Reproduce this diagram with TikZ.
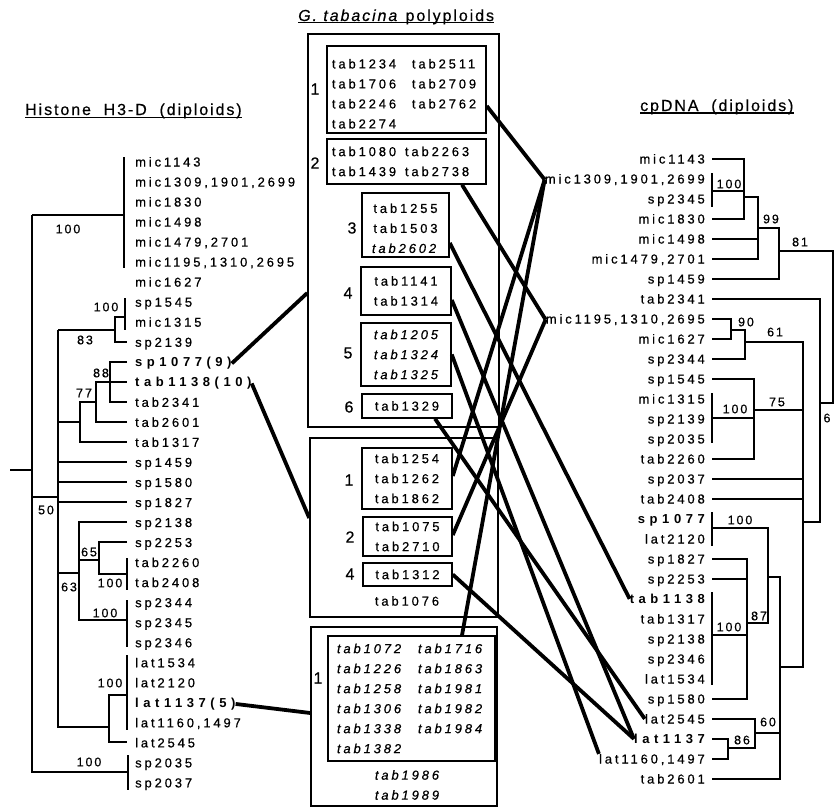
\documentclass[tikz,border=0pt]{standalone}
\usepackage{fontspec}
\setmainfont{Liberation Sans}
\newfontfamily\labfont[LetterSpace=22, FakeBold=0.6]{Liberation Sans}
\newfontfamily\boldfont[LetterSpace=35]{Liberation Sans}
\newfontfamily\suppfont[LetterSpace=15, FakeBold=0.6]{Liberation Sans}
\newfontfamily\titlefont[LetterSpace=12, FakeBold=0.5]{Liberation Sans}
\usepackage{tikz}
\usetikzlibrary{calc, positioning}
\newcommand\tipr{\labfont\fontsize{13}{20}\selectfont}
\newcommand\tipb{\boldfont\bfseries\fontsize{13}{20}\selectfont}
\newcommand\twocol[3]{\makebox[#1][l]{#2}#3}

\begin{document}
\begin{tikzpicture}[x=1pt, y=-1pt,
  every node/.style={inner sep=0pt},
  branch/.style={line width=1.5pt},
  link/.style={line width=3.8pt},
  supp/.style={font=\suppfont\fontsize{12.5}{14}\selectfont},
  num/.style={font=\labfont\fontsize{16}{16}\selectfont},
  ttl/.style={font=\titlefont\fontsize{16}{18}\selectfont},
  uline/.style={line width=1pt},
  outer/.style={draw, line width=1.5pt},
  grp/.style={draw, line width=1.5pt, font=\tipr}]
  \useasboundingbox (0,0) rectangle (836,808);

  \node[ttl, anchor=base west] (hTitle) at (25,115) {Histone\ \ H3-D\ \ (diploids)};
  \node[ttl, anchor=base west] (gTitle) at (298,21) {\textit{G.\ tabacina}\ polyploids};
  \node[ttl, anchor=base west] (cTitle) at (640,111) {cpDNA\ \ (diploids)};
  \foreach \t in {hTitle, gTitle, cTitle}
    \draw[uline] ([yshift=-2pt]\t.base west) -- ([yshift=-2pt]\t.base east);

  \foreach \t/\w [count=\i from 0] in {mic1143/r, {mic1309,1901,2699}/r, mic1830/r, mic1498/r,
      {mic1479,2701}/r, {mic1195,1310,2695}/r, mic1627/r, sp1545/r, mic1315/r, sp2139/r,
      sp1077(9)/b, tab1138(10)/b, tab2341/r, tab2601/r, tab1317/r, sp1459/r, sp1580/r,
      sp1827/r, sp2138/r, sp2253/r, tab2260/r, tab2408/r, sp2344/r, sp2345/r, sp2346/r,
      lat1534/r, lat2120/r, lat1137(5)/b, {lat1160,1497}/r, lat2545/r, sp2035/r, sp2037/r}
    \node[font=\csname tip\w\endcsname, anchor=base west] (L\i) at (135, 166.5+20.03*\i) {\t};

  \foreach \t/\w [count=\i from 0] in {mic1143/r, {mic1309,1901,2699}/r, sp2345/r, mic1830/r,
      mic1498/r, {mic1479,2701}/r, sp1459/r, tab2341/r, {mic1195,1310,2695}/r, mic1627/r,
      sp2344/r, sp1545/r, mic1315/r, sp2139/r, sp2035/r, tab2260/r, sp2037/r, tab2408/r,
      sp1077/b, lat2120/r, sp1827/r, sp2253/r, tab1138/b, tab1317/r, sp2138/r, sp2346/r,
      lat1534/r, sp1580/r, lat2545/r, lat1137/b, {lat1160,1497}/r, tab2601/r}
    \node[font=\csname tip\w\endcsname, anchor=base east] (R\i) at (705, 163.5+20*\i) {\t};

  \draw[branch] (10,470) -- (32,470) (32,215) -- (32,772) -- (128,772) (128,755) -- (128,790);
  \draw[branch] (32,215) -- (124,215) (124,157) -- (124,268);
  \draw[branch] (32,497) -- (58,497) (58,330) -- (58,727) -- (109,727);
  \draw[branch] (58,330) -- (115,330) (125,317) -| (115,342) -- (127,342) (125,298) -- (125,330);
  \draw[branch] (58,422) -- (80,422) (96,402) -| (80,442) -- (127,442);
  \draw[branch] (127,422) -| (96,382) -- (110,382) (127,362) -| (110,402) -- (127,402) (110,382) -- (127,382);
  \draw[branch] (58,462) -- (127,462) (58,482) -- (127,482) (58,502) -- (127,502);
  \draw[branch] (58,573) -- (79,573) (127,522) -| (79,620) -- (127,620) (127,600) -- (127,647);
  \draw[branch] (79,560) -- (99,560) (127,542) -| (99,574) -- (127,574) (127,558) -- (127,590);
  \draw[branch] (127,695) -| (109,742) -- (127,742) (127,655) -- (127,730);

  \node[supp] (sL1) at (68,229) {100};
  \node[supp] (sL2) at (46,510) {50};
  \node[supp] (sL3) at (85,340) {83};
  \node[supp] (sL4) at (106,307) {100};
  \node[supp] (sL5) at (84,393) {77};
  \node[supp] (sL6) at (101,373) {88};
  \node[supp] (sL7) at (69,587) {63};
  \node[supp] (sL8) at (89,552) {65};
  \node[supp] (sL9) at (110,583) {100};
  \node[supp] (sL10) at (105,613) {100};
  \node[supp] (sL11) at (110,683) {100};
  \node[supp] (sL12) at (89,762) {100};

  \draw[branch] (712,159) -| (744,219) -- (712,219) (712,173) -- (712,207) (712,191) -- (744,191);
  \draw[branch] (744,197) -| (758,259) -- (712,259) (712,239) -- (758,239);
  \draw[branch] (758,228) -| (779,279) -- (712,279);
  \draw[branch] (779,251) -| (833,403) -- (820,403);
  \draw[branch] (712,299) -| (820,522) -- (803,522);
  \draw[branch] (712,319) -| (731,339) -- (712,339);
  \draw[branch] (731,330) -| (745,359) -- (712,359);
  \draw[branch] (745,342) -| (803,667) -- (780,667);
  \draw[branch] (712,379) -| (754,459) -- (712,459) (712,393) -- (712,443) (712,418) -- (754,418);
  \draw[branch] (754,410) -- (803,410) (712,479) -- (803,479) (712,499) -- (803,499);
  \draw[branch] (712,512) -- (712,546) (712,528) -| (768,623) -- (747,623);
  \draw[branch] (712,559) -| (747,699) -- (712,699) (712,579) -- (747,579);
  \draw[branch] (712,592) -- (712,685) (712,635) -- (747,635);
  \draw[branch] (768,577) -| (780,779) -- (712,779);
  \draw[branch] (712,719) -| (755,748) -- (728,748) (755,733) -- (780,733);
  \draw[branch] (712,739) -| (728,759) -- (712,759);

  \node[supp] (sR1) at (729,184) {100};
  \node[supp] (sR2) at (771,219) {99};
  \node[supp] (sR3) at (800,242) {81};
  \node[supp] (sR4) at (746,322) {90};
  \node[supp] (sR5) at (775,332) {61};
  \node[supp] (sR6) at (735,409) {100};
  \node[supp] (sR7) at (777,402) {75};
  \node[supp] (sR8) at (740,520) {100};
  \node[supp] (sR9) at (729,627) {100};
  \node[supp] (sR10) at (759,616) {87};
  \node[supp] (sR11) at (768,722) {60};
  \node[supp] (sR12) at (742,740) {86};
  \node[supp] (sR13) at (827,418) {6};

  \node[outer, minimum width=191pt, minimum height=393pt] (outA) at (403.5,230.5) {};
  \node[outer, minimum width=188pt, minimum height=179pt] (outB) at (404,527.5) {};
  \node[outer, minimum width=186pt, minimum height=179pt] (outC) at (404,716.5) {};

  \node[grp, align=left, text width=149pt, minimum width=159pt, minimum height=87pt] (boxA1) at (406.5,89.5)
    {\rule{0pt}{18pt}\twocol{80pt}{tab1234}{tab2511}\\\twocol{80pt}{tab1706}{tab2709}\\
    \twocol{80pt}{tab2246}{tab2762}\\tab2274};
  \node[grp, align=left, text width=149pt, minimum width=159pt, minimum height=45pt] (boxA2) at (406.5,161.5)
    {\twocol{73pt}{tab1080}{tab2263}\\\twocol{73pt}{tab1439}{tab2738}};
  \node[grp, align=center, minimum width=87pt, minimum height=64pt] (boxA3) at (405.5,225)
    {\rule{0pt}{16pt}tab1255\\tab1503\\\textit{tab2602}};
  \node[grp, align=center, minimum width=90pt, minimum height=48pt] (boxA4) at (406,291) {tab1141\\tab1314};
  \node[grp, align=center, font=\tipr\itshape, minimum width=90pt, minimum height=63pt] (boxA5) at (406,354.5)
    {tab1205\\tab1324\\tab1325};
  \node[grp, minimum width=90pt, minimum height=24pt] (boxA6) at (407,406) {tab1329};
  \node[grp, align=center, minimum width=90pt, minimum height=61pt] (boxB1) at (407,478.5)
    {tab1254\\tab1262\\tab1862};
  \node[grp, align=center, minimum width=89pt, minimum height=39pt] (boxB2) at (407.5,536.5) {tab1075\\tab2710};
  \node[grp, minimum width=89pt, minimum height=23pt] (boxB4) at (407.5,574.5) {tab1312};
  \node[font=\tipr] (tB) at (407,601) {tab1076};
  \node[grp, align=left, font=\tipr\itshape, text width=149pt, minimum width=167pt, minimum height=125pt] (boxC1)
    at (411.5,698.5) {\twocol{81pt}{tab1072}{tab1716}\\\twocol{81pt}{tab1226}{tab1863}\\\twocol{81pt}{tab1258}{tab1981}\\
    \twocol{81pt}{tab1306}{tab1982}\\\twocol{81pt}{tab1338}{tab1984}\\tab1382};
  \node[font=\tipr\itshape, align=center] (tC) at (407,785) {tab1986\\tab1989};

  \node[num] (nA1) at (315,89) {1};
  \node[num] (nA2) at (315,163) {2};
  \node[num] (nA3) at (352,228) {3};
  \node[num] (nA4) at (348,293) {4};
  \node[num] (nA5) at (348,353) {5};
  \node[num] (nA6) at (349,407) {6};
  \node[num] (nB1) at (349,480) {1};
  \node[num] (nB2) at (350,537) {2};
  \node[num] (nB4) at (350,574) {4};
  \node[num] (nC1) at (318,678) {1};

  \draw[link] (L10.east) -- ([yshift=-62.5pt]outA.west);
  \draw[link] (L11.east) -- ([yshift=9.5pt]outB.west);
  \draw[link] (L27.east) -- ([yshift=3.5pt]outC.west);
  \draw[link] ([yshift=-16.5pt]boxA1.east) -- (R1.west);
  \draw[link] ([xshift=55.5pt]boxA2.south) -- (R8.west);
  \draw[link] ([yshift=-18pt]boxA3.east) -- (R22.west);
  \draw[link] ([yshift=-9pt]boxA4.east) -- (R29.west);
  \draw[link] (boxA5.east) -- (R30.north west);
  \draw[link] ([xshift=28pt]boxA6.south) -- (R28.west);
  \draw[link] ([yshift=2.5pt]boxB1.east) -- (R1.west);
  \draw[link] ([yshift=1.5pt]boxB2.east) -- (R8.west);
  \draw[link] (boxB4.east) -- (R29.west);
  \draw[link] ([xshift=50.5pt]boxC1.north) -- (R1.west);
\end{tikzpicture}
\end{document}
